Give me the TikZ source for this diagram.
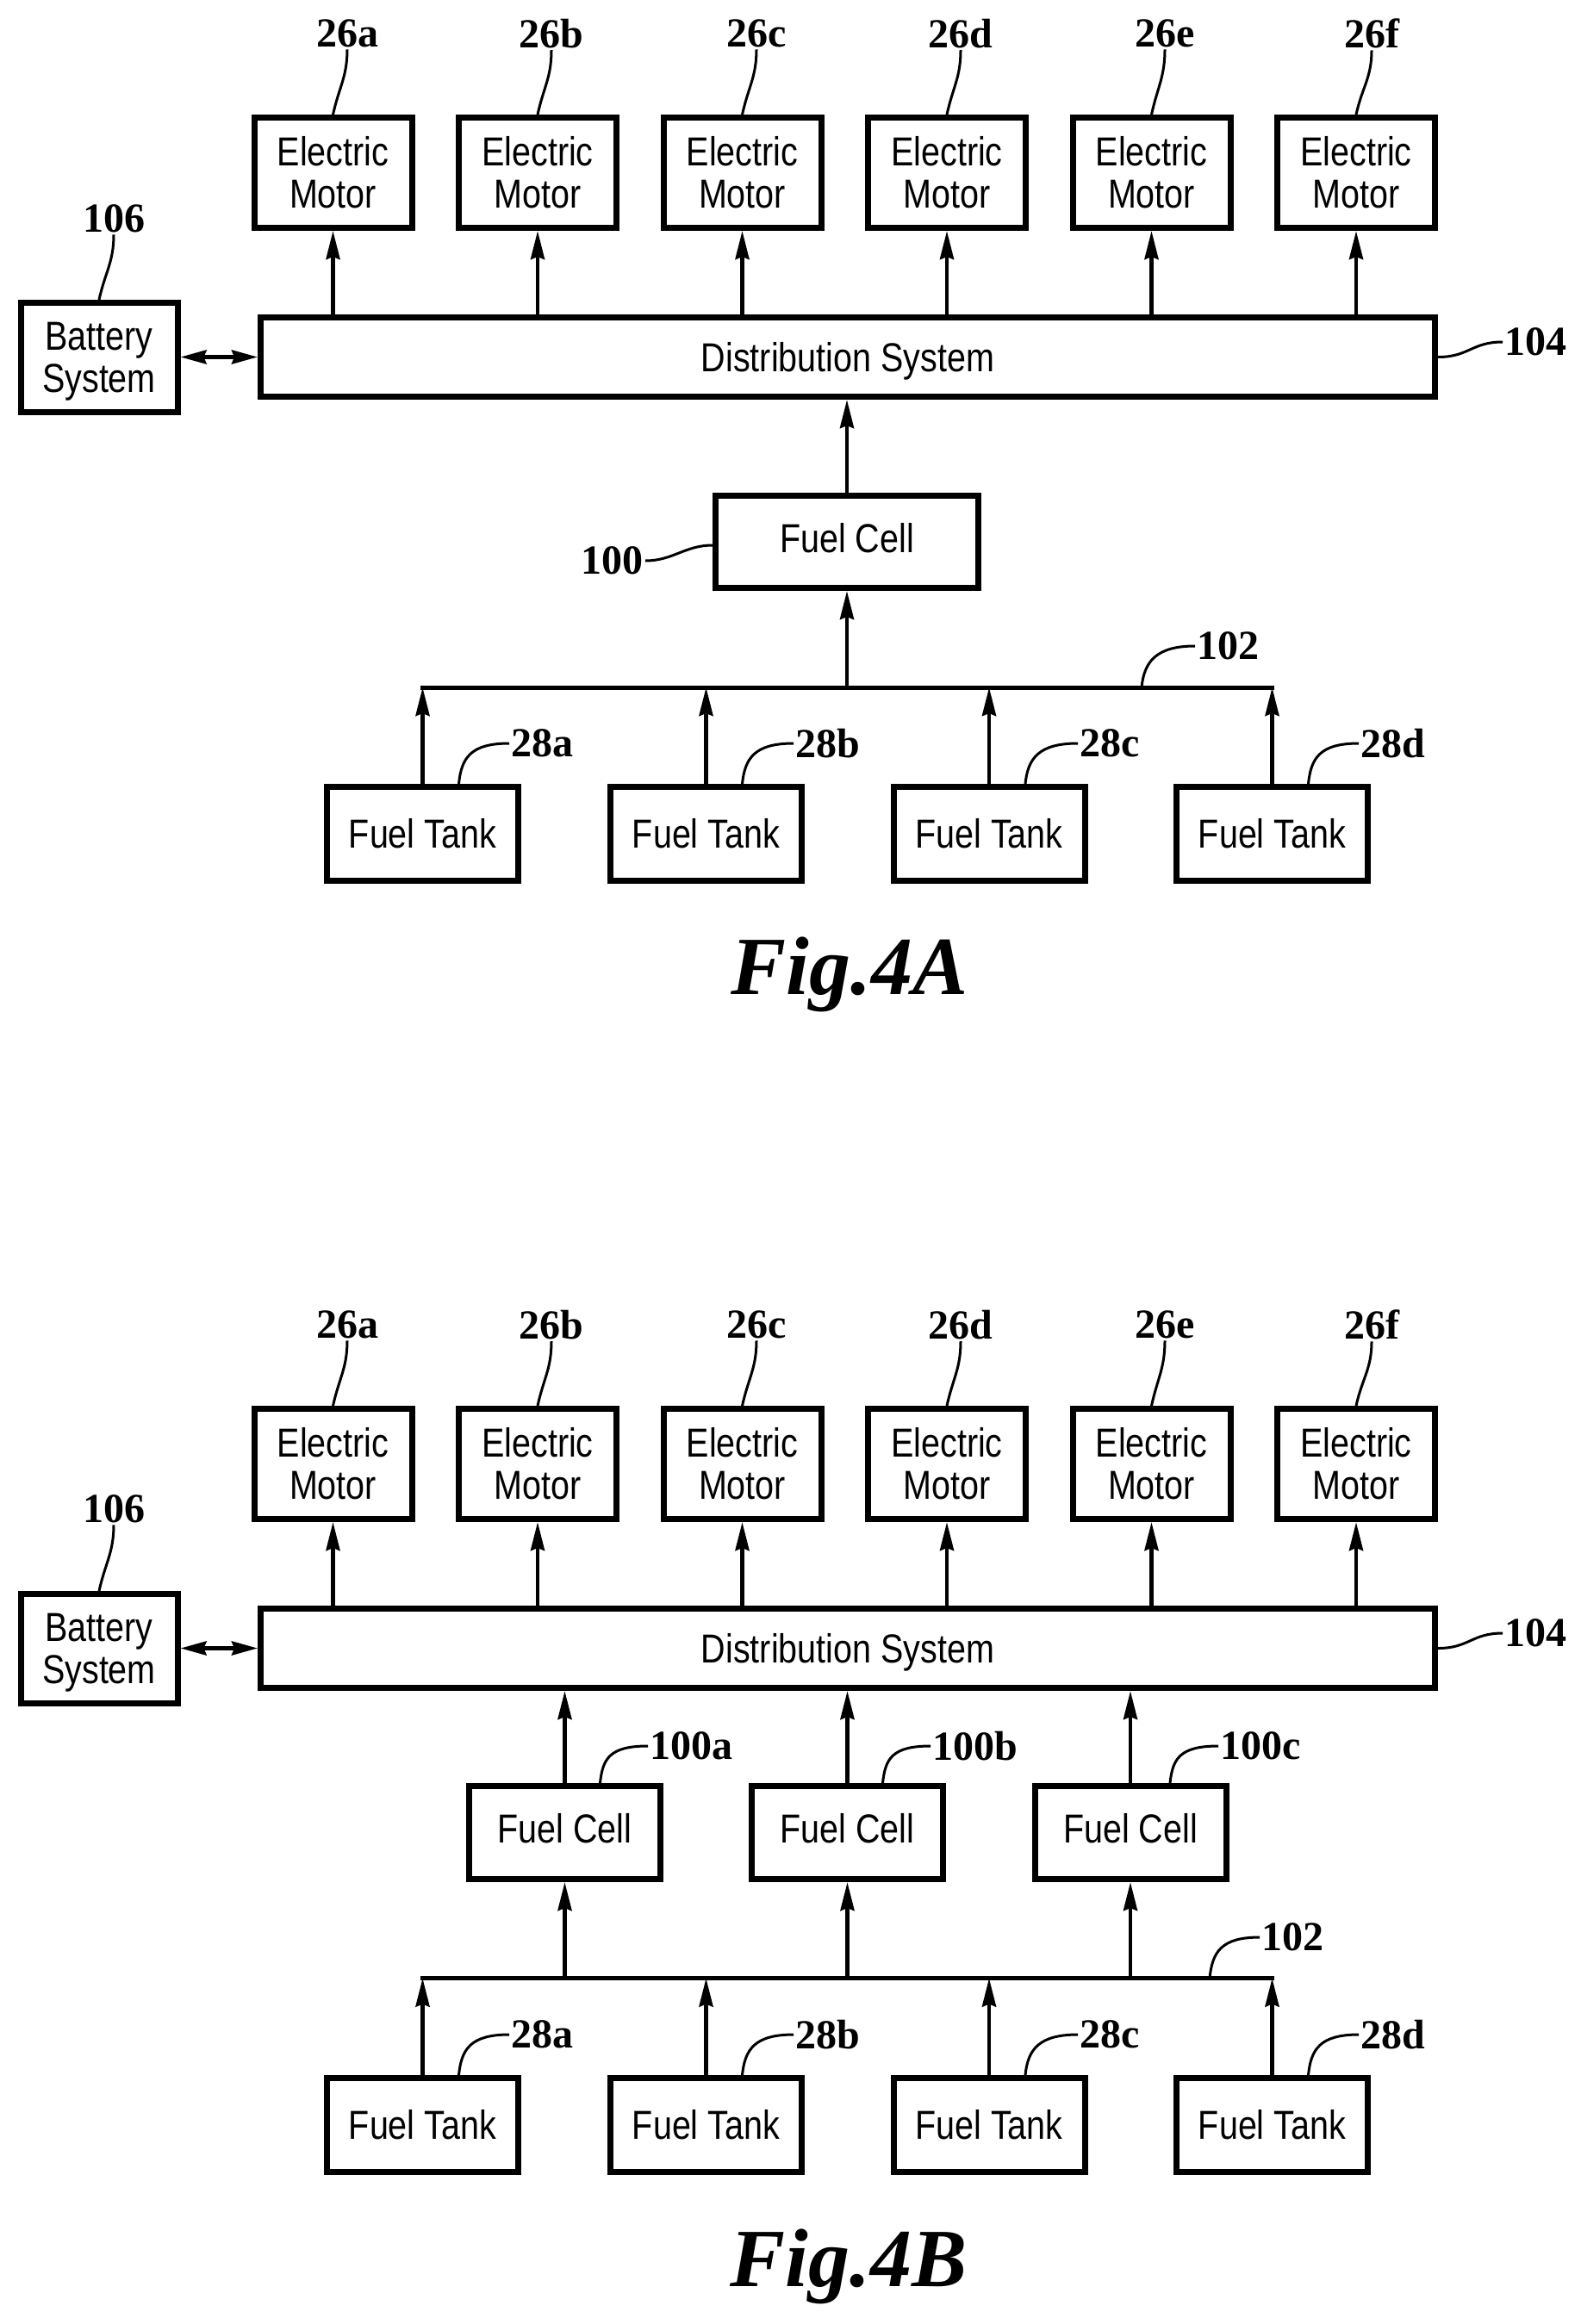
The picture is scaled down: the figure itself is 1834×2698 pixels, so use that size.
\documentclass[tikz,border=0pt]{standalone}
\usepackage{fontspec}
\usetikzlibrary{calc,arrows.meta}
\newfontfamily\boxFont[FakeStretch=0.84]{Liberation Sans}
\newfontfamily\refFont{Liberation Serif}
\tikzset{
    block/.style = {draw, rectangle, line width=7pt, inner sep=0pt, align=center,
        font=\boxFont\fontsize{47}{49}\selectfont},
    motor/.style = {block, minimum width=183pt, minimum height=128pt},
    tank/.style = {block, minimum width=222pt, minimum height=109pt},
    cell/.style = {block, minimum width=222pt, minimum height=108pt, text depth=10pt},
    arrow/.style = {draw, line width=4.5pt, -{Stealth[length=33pt,width=16pt,inset=3pt]}},
    both/.style = {draw, line width=4.5pt, {Stealth[length=30pt,width=16pt,inset=3pt]}-{Stealth[length=30pt,width=16pt,inset=3pt]}},
    bus/.style = {draw, line width=5pt},
    leader/.style = {draw, line width=3pt},
    reflabel/.style = {inner sep=2pt, font=\refFont\bfseries\fontsize{48}{48}\selectfont},
    figlabel/.style = {anchor=base, inner sep=0pt, font=\refFont\bfseries\itshape\fontsize{96}{96}\selectfont}
}
\begin{document}
\begin{tikzpicture}[x=1pt,y=-1pt]
    \useasboundingbox (0,0) rectangle (1834,2698);
    % Fig.4A
    \node [motor] (m1) at (386.5,200.5) {Electric\\Motor};
    \node [motor] (m2) at (624,200.5) {Electric\\Motor};
    \node [motor] (m3) at (861.5,200.5) {Electric\\Motor};
    \node [motor] (m4) at (1099,200.5) {Electric\\Motor};
    \node [motor] (m5) at (1336.5,200.5) {Electric\\Motor};
    \node [motor] (m6) at (1574,200.5) {Electric\\Motor};
    \node [block, minimum width=1363pt, minimum height=92pt, text depth=0pt] (dist) at (984,414.5) {Distribution System};
    \node [block, minimum width=182pt, minimum height=127pt, text depth=0pt] (bat) at (115,415) {Battery\\System};
    \node [block, minimum width=305pt, minimum height=107pt, text depth=10pt] (fc) at (983,629) {Fuel Cell};
    \node [tank] (t1) at (490.5,968) {Fuel Tank};
    \node [tank] (t2) at (819.5,968) {Fuel Tank};
    \node [tank] (t3) at (1148,968) {Fuel Tank};
    \node [tank] (t4) at (1476.5,968) {Fuel Tank};
    \coordinate (busL) at (488,798);
    \coordinate (busR) at (1479,798);
    \draw [bus] (busL) -- (busR);
    \draw [arrow] (m1.south |- dist.north) -- (m1.south);
    \draw [arrow] (m2.south |- dist.north) -- (m2.south);
    \draw [arrow] (m3.south |- dist.north) -- (m3.south);
    \draw [arrow] (m4.south |- dist.north) -- (m4.south);
    \draw [arrow] (m5.south |- dist.north) -- (m5.south);
    \draw [arrow] (m6.south |- dist.north) -- (m6.south);
    \draw [both] (bat.east |- dist.west) -- (dist.west);
    \draw [arrow] (fc.north) -- (fc.north |- dist.south);
    \draw [arrow] (fc.south |- busL) -- (fc.south);
    \draw [arrow] (t1.north) -- (t1.north |- busL);
    \draw [arrow] (t2.north) -- (t2.north |- busL);
    \draw [arrow] (t3.north) -- (t3.north |- busL);
    \draw [arrow] (t4.north) -- (t4.north |- busL);
    \node [reflabel] (r26a) at (403,39) {26a};
    \node [reflabel] (r26b) at (640,39) {26b};
    \node [reflabel] (r26c) at (878,39) {26c};
    \node [reflabel] (r26d) at (1115,39) {26d};
    \node [reflabel] (r26e) at (1352,39) {26e};
    \node [reflabel] (r26f) at (1592,39) {26f};
    \node [reflabel] (r106) at (132,254) {106};
    \node [reflabel, anchor=west] (r104) at (1744,397) {104};
    \node [reflabel, anchor=east] (r100) at (749,651) {100};
    \node [reflabel, anchor=west] (r102) at (1387,750) {102};
    \node [reflabel, anchor=west] (r28a) at (591,863) {28a};
    \node [reflabel, anchor=west] (r28b) at (921,863) {28b};
    \node [reflabel, anchor=west] (r28c) at (1251,863) {28c};
    \node [reflabel, anchor=west] (r28d) at (1577,863) {28d};
    \draw [leader] (r26a.south) .. controls +(0,32) and +(7,-32) .. (m1.north);
    \draw [leader] (r26b.south) .. controls +(0,32) and +(7,-32) .. (m2.north);
    \draw [leader] (r26c.south) .. controls +(0,32) and +(7,-32) .. (m3.north);
    \draw [leader] (r26d.south) .. controls +(0,32) and +(7,-32) .. (m4.north);
    \draw [leader] (r26e.south) .. controls +(0,32) and +(7,-32) .. (m5.north);
    \draw [leader] (r26f.south) .. controls +(0,32) and +(7,-32) .. (m6.north);
    \draw [leader] (r106.south) .. controls +(0,32) and +(7,-32) .. (bat.north);
    \draw [leader] (dist.east) .. controls +(36,0) and +(-36,0) .. (r104.west);
    \draw [leader] (r100.east) .. controls +(32,0) and +(-32,0) .. ([yshift=-4pt]fc.west);
    \draw [leader] (r102.west) .. controls +(-45,0) and +(3,-30) .. ([xshift=-154pt]busR);
    \draw [leader] (r28a.west) .. controls +(-45,0) and +(3,-30) .. ([xshift=42pt]t1.north);
    \draw [leader] (r28b.west) .. controls +(-45,0) and +(3,-30) .. ([xshift=42pt]t2.north);
    \draw [leader] (r28c.west) .. controls +(-45,0) and +(3,-30) .. ([xshift=42pt]t3.north);
    \draw [leader] (r28d.west) .. controls +(-45,0) and +(3,-30) .. ([xshift=42pt]t4.north);
    \node [figlabel] (figA) at (986,1154) {Fig.4A};
    % Fig.4B
    \node [motor] (n1) at (386.5,1699.5) {Electric\\Motor};
    \node [motor] (n2) at (624,1699.5) {Electric\\Motor};
    \node [motor] (n3) at (861.5,1699.5) {Electric\\Motor};
    \node [motor] (n4) at (1099,1699.5) {Electric\\Motor};
    \node [motor] (n5) at (1336.5,1699.5) {Electric\\Motor};
    \node [motor] (n6) at (1574,1699.5) {Electric\\Motor};
    \node [block, minimum width=1363pt, minimum height=92pt, text depth=0pt] (distB) at (984,1913.5) {Distribution System};
    \node [block, minimum width=182pt, minimum height=127pt, text depth=0pt] (batB) at (115,1914) {Battery\\System};
    \node [cell] (c1) at (655.5,2127.5) {Fuel Cell};
    \node [cell] (c2) at (983.5,2127.5) {Fuel Cell};
    \node [cell] (c3) at (1312,2127.5) {Fuel Cell};
    \node [tank] (s1) at (490.5,2467) {Fuel Tank};
    \node [tank] (s2) at (819.5,2467) {Fuel Tank};
    \node [tank] (s3) at (1148,2467) {Fuel Tank};
    \node [tank] (s4) at (1476.5,2467) {Fuel Tank};
    \coordinate (busBL) at (488,2296.5);
    \coordinate (busBR) at (1479,2296.5);
    \draw [bus] (busBL) -- (busBR);
    \draw [arrow] (n1.south |- distB.north) -- (n1.south);
    \draw [arrow] (n2.south |- distB.north) -- (n2.south);
    \draw [arrow] (n3.south |- distB.north) -- (n3.south);
    \draw [arrow] (n4.south |- distB.north) -- (n4.south);
    \draw [arrow] (n5.south |- distB.north) -- (n5.south);
    \draw [arrow] (n6.south |- distB.north) -- (n6.south);
    \draw [both] (batB.east |- distB.west) -- (distB.west);
    \draw [arrow] (c1.north) -- (c1.north |- distB.south);
    \draw [arrow] (c2.north) -- (c2.north |- distB.south);
    \draw [arrow] (c3.north) -- (c3.north |- distB.south);
    \draw [arrow] (c1.south |- busBL) -- (c1.south);
    \draw [arrow] (c2.south |- busBL) -- (c2.south);
    \draw [arrow] (c3.south |- busBL) -- (c3.south);
    \draw [arrow] (s1.north) -- (s1.north |- busBL);
    \draw [arrow] (s2.north) -- (s2.north |- busBL);
    \draw [arrow] (s3.north) -- (s3.north |- busBL);
    \draw [arrow] (s4.north) -- (s4.north |- busBL);
    \node [reflabel] (q26a) at (403,1538) {26a};
    \node [reflabel] (q26b) at (640,1538) {26b};
    \node [reflabel] (q26c) at (878,1538) {26c};
    \node [reflabel] (q26d) at (1115,1538) {26d};
    \node [reflabel] (q26e) at (1352,1538) {26e};
    \node [reflabel] (q26f) at (1592,1538) {26f};
    \node [reflabel] (q106) at (132,1752) {106};
    \node [reflabel, anchor=west] (q104) at (1744,1896) {104};
    \node [reflabel, anchor=west] (q100a) at (752,2027) {100a};
    \node [reflabel, anchor=west] (q100b) at (1080,2027) {100b};
    \node [reflabel, anchor=west] (q100c) at (1414,2027) {100c};
    \node [reflabel, anchor=west] (q102) at (1462,2249) {102};
    \node [reflabel, anchor=west] (q28a) at (591,2362) {28a};
    \node [reflabel, anchor=west] (q28b) at (921,2362) {28b};
    \node [reflabel, anchor=west] (q28c) at (1251,2362) {28c};
    \node [reflabel, anchor=west] (q28d) at (1577,2362) {28d};
    \draw [leader] (q26a.south) .. controls +(0,32) and +(7,-32) .. (n1.north);
    \draw [leader] (q26b.south) .. controls +(0,32) and +(7,-32) .. (n2.north);
    \draw [leader] (q26c.south) .. controls +(0,32) and +(7,-32) .. (n3.north);
    \draw [leader] (q26d.south) .. controls +(0,32) and +(7,-32) .. (n4.north);
    \draw [leader] (q26e.south) .. controls +(0,32) and +(7,-32) .. (n5.north);
    \draw [leader] (q26f.south) .. controls +(0,32) and +(7,-32) .. (n6.north);
    \draw [leader] (q106.south) .. controls +(0,32) and +(7,-32) .. (batB.north);
    \draw [leader] (distB.east) .. controls +(36,0) and +(-36,0) .. (q104.west);
    \draw [leader] (q100a.west) .. controls +(-45,0) and +(3,-28) .. ([xshift=41pt]c1.north);
    \draw [leader] (q100b.west) .. controls +(-45,0) and +(3,-28) .. ([xshift=41pt]c2.north);
    \draw [leader] (q100c.west) .. controls +(-45,0) and +(3,-28) .. ([xshift=46pt]c3.north);
    \draw [leader] (q102.west) .. controls +(-45,0) and +(3,-30) .. ([xshift=-75pt]busBR);
    \draw [leader] (q28a.west) .. controls +(-45,0) and +(3,-30) .. ([xshift=42pt]s1.north);
    \draw [leader] (q28b.west) .. controls +(-45,0) and +(3,-30) .. ([xshift=42pt]s2.north);
    \draw [leader] (q28c.west) .. controls +(-45,0) and +(3,-30) .. ([xshift=42pt]s3.north);
    \draw [leader] (q28d.west) .. controls +(-45,0) and +(3,-30) .. ([xshift=42pt]s4.north);
    \node [figlabel] (figB) at (985,2654) {Fig.4B};
\end{tikzpicture}
\end{document}
